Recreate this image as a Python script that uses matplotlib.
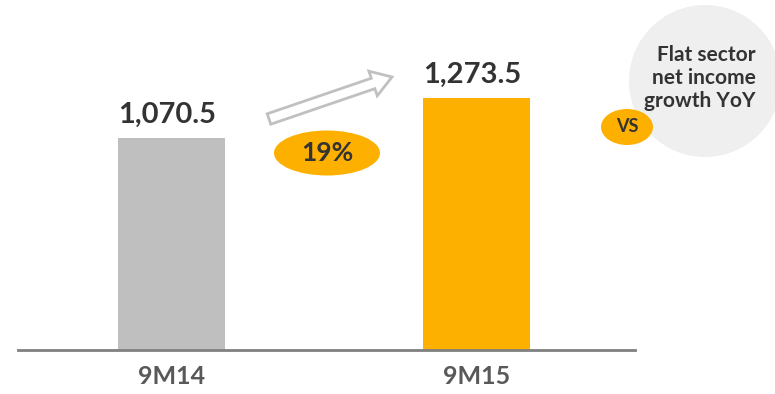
import matplotlib.pyplot as plt
from matplotlib.patches import Ellipse, FancyArrow
from matplotlib.transforms import IdentityTransform

periods = ["9M14", "9M15"]
net_income = [1070.5, 1273.5]
value_labels = ["1,070.5", "1,273.5"]
growth_label = "19%"
sector_note = "Flat sector\nnet income\ngrowth YoY"

W, H = 775, 394
fig = plt.figure(figsize=(W / 100, H / 100), dpi=100)
plt.rcParams['font.family'] = ['Lato', 'DejaVu Sans']

# axes placed so the baseline sits at y=350 px
ax = fig.add_axes([18 / W, (H - 350) / H, 617 / W, 350 / H])
ax.set_xlim(-0.503, 1.520)
ax.set_ylim(0, 1767)
x = [0, 1]
ax.bar(x, net_income, width=0.351, color=["#bfbfbf", "#fdb000"])
for xi, v, lab in zip(x, net_income, value_labels):
    ax.text(xi - 0.015, v + 50, lab, ha="center", va="bottom", fontsize=21,
            fontweight="bold", color="#333333")

for s in ["top", "left", "right"]:
    ax.spines[s].set_visible(False)
ax.spines["bottom"].set_color("#808080")
ax.spines["bottom"].set_linewidth(2)
ax.set_yticks([])
ax.set_xticks(x)
ax.set_xticklabels(periods, fontsize=18, color="#595959", fontweight="bold")
ax.tick_params(axis="x", length=0, pad=11)


def px(xp, yp):
    return xp, H - yp


pix = IdentityTransform()

# hollow arrow
x0, y0 = px(269, 119)
x1, y1 = px(392, 77)
arr = FancyArrow(x0, y0, x1 - x0, y1 - y0, width=11, head_width=26,
                 head_length=20, length_includes_head=True, transform=pix,
                 facecolor="white", edgecolor="#c0c0c0", linewidth=2)
fig.patches.append(arr)

# growth bubble
e = Ellipse(px(327, 153), 106, 45, transform=pix, facecolor="#fdb000",
            edgecolor="none")
fig.patches.append(e)
fig.text(327 / W, (H - 153) / H, growth_label, ha="center", va="center",
         fontsize=19, fontweight="bold", color="#333333")

# sector comparison circle
c = Ellipse(px(705, 81), 152, 152, transform=pix, facecolor="#efefef",
            edgecolor="none")
fig.patches.append(c)
fig.text(756 / W, (H - 78) / H, sector_note, ha="right", va="center",
         fontsize=15, fontweight="bold", color="#333333", linespacing=1.2)

v = Ellipse(px(627, 127), 52, 36, transform=pix, facecolor="#fdb000",
            edgecolor="none")
fig.patches.append(v)
fig.text(627 / W, (H - 127) / H, "VS", ha="center", va="center",
         fontsize=13, fontweight="bold", color="#333333")

fig.savefig("out.png", dpi=100)
